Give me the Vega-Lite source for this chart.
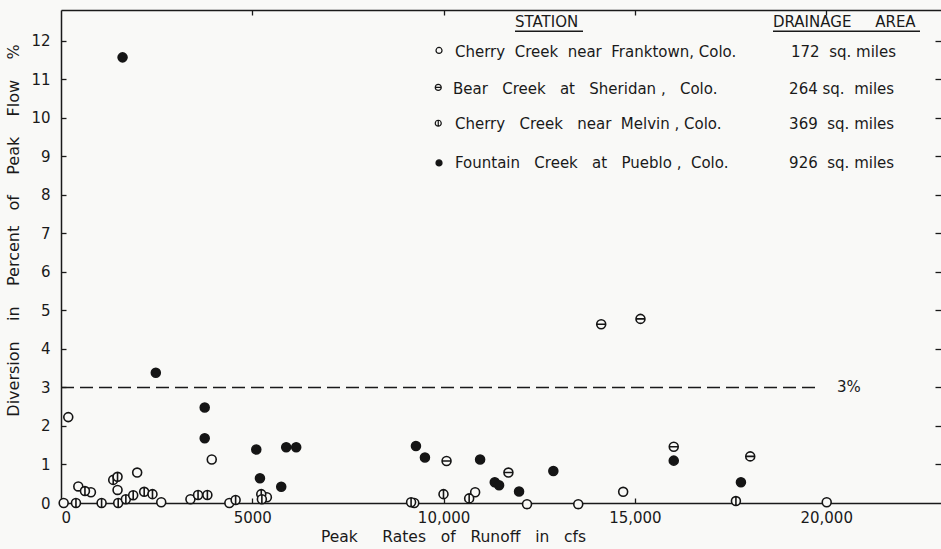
{
  "$schema": "https://vega.github.io/schema/vega-lite/v6.json",
  "autosize": "none",
  "width": 880,
  "height": 493,
  "padding": {"left": 61, "top": 10, "right": 0, "bottom": 46},
  "background": "#f9f9f7",
  "config": {
    "view": {"stroke": null},
    "axis": {"grid": false, "labelFont": "DejaVu Sans", "titleFont": "DejaVu Sans", "labelColor": "#1a1a1a", "titleColor": "#1a1a1a", "domainColor": "#1a1a1a", "tickColor": "#1a1a1a", "domainWidth": 1.5, "tickWidth": 1.3, "titleFontWeight": "normal"}
  },
  "datasets": {
    "points": [
      {"q": 70, "pct": 0, "station": "Franktown"},
      {"q": 190, "pct": 2.23, "station": "Franktown"},
      {"q": 452, "pct": 0.43, "station": "Franktown"},
      {"q": 782, "pct": 0.28, "station": "Franktown"},
      {"q": 1478, "pct": 0.34, "station": "Franktown"},
      {"q": 1991, "pct": 0.79, "station": "Franktown"},
      {"q": 2620, "pct": 0.02, "station": "Franktown"},
      {"q": 3383, "pct": 0.1, "station": "Franktown"},
      {"q": 3940, "pct": 1.13, "station": "Franktown"},
      {"q": 4400, "pct": 0, "station": "Franktown"},
      {"q": 5381, "pct": 0.15, "station": "Franktown"},
      {"q": 9233, "pct": 0, "station": "Franktown"},
      {"q": 10824, "pct": 0.28, "station": "Franktown"},
      {"q": 12180, "pct": -0.03, "station": "Franktown"},
      {"q": 13519, "pct": -0.03, "station": "Franktown"},
      {"q": 14693, "pct": 0.29, "station": "Franktown"},
      {"q": 20013, "pct": 0.02, "station": "Franktown"},
      {"q": 10077, "pct": 1.09, "station": "Bear Creek"},
      {"q": 11694, "pct": 0.79, "station": "Bear Creek"},
      {"q": 14119, "pct": 4.64, "station": "Bear Creek"},
      {"q": 15145, "pct": 4.78, "station": "Bear Creek"},
      {"q": 16015, "pct": 1.46, "station": "Bear Creek"},
      {"q": 18014, "pct": 1.21, "station": "Bear Creek"},
      {"q": 391, "pct": 0, "station": "Melvin"},
      {"q": 626, "pct": 0.31, "station": "Melvin"},
      {"q": 1061, "pct": 0, "station": "Melvin"},
      {"q": 1365, "pct": 0.6, "station": "Melvin"},
      {"q": 1478, "pct": 0.68, "station": "Melvin"},
      {"q": 1495, "pct": 0, "station": "Melvin"},
      {"q": 1695, "pct": 0.1, "station": "Melvin"},
      {"q": 1887, "pct": 0.2, "station": "Melvin"},
      {"q": 2174, "pct": 0.29, "station": "Melvin"},
      {"q": 2391, "pct": 0.23, "station": "Melvin"},
      {"q": 3582, "pct": 0.21, "station": "Melvin"},
      {"q": 3826, "pct": 0.21, "station": "Melvin"},
      {"q": 4564, "pct": 0.08, "station": "Melvin"},
      {"q": 5234, "pct": 0.23, "station": "Melvin"},
      {"q": 5250, "pct": 0.1, "station": "Melvin"},
      {"q": 9150, "pct": 0.02, "station": "Melvin"},
      {"q": 9997, "pct": 0.23, "station": "Melvin"},
      {"q": 10668, "pct": 0.12, "station": "Melvin"},
      {"q": 17640, "pct": 0.05, "station": "Melvin"},
      {"q": 1609, "pct": 11.57, "station": "Fountain"},
      {"q": 2478, "pct": 3.38, "station": "Fountain"},
      {"q": 3756, "pct": 2.48, "station": "Fountain"},
      {"q": 3756, "pct": 1.68, "station": "Fountain"},
      {"q": 5104, "pct": 1.39, "station": "Fountain"},
      {"q": 5200, "pct": 0.64, "station": "Fountain"},
      {"q": 5756, "pct": 0.42, "station": "Fountain"},
      {"q": 5886, "pct": 1.45, "station": "Fountain"},
      {"q": 6147, "pct": 1.45, "station": "Fountain"},
      {"q": 9277, "pct": 1.48, "station": "Fountain"},
      {"q": 9512, "pct": 1.18, "station": "Fountain"},
      {"q": 10954, "pct": 1.13, "station": "Fountain"},
      {"q": 11337, "pct": 0.54, "station": "Fountain"},
      {"q": 11450, "pct": 0.46, "station": "Fountain"},
      {"q": 11972, "pct": 0.3, "station": "Fountain"},
      {"q": 12868, "pct": 0.83, "station": "Fountain"},
      {"q": 16015, "pct": 1.1, "station": "Fountain"},
      {"q": 17771, "pct": 0.54, "station": "Fountain"}
    ],
    "threshold": [{"q": 0, "q2": 19759, "pct": 3, "label": "3%", "lq": 20282}],
    "legendSymbols": [
      {"q": 9880, "pct": 11.75, "station": "Franktown"},
      {"q": 9860, "pct": 10.79, "station": "Bear Creek"},
      {"q": 9860, "pct": 9.86, "station": "Melvin"},
      {"q": 9880, "pct": 8.83, "station": "Fountain"}
    ],
    "legendText": [
      {"q": 11866, "pct": 12.49, "t": "STATION"},
      {"q": 18609, "pct": 12.49, "t": "DRAINAGE\u00a0\u00a0\u00a0\u00a0\u00a0AREA"},
      {"q": 10298, "pct": 11.71, "t": "Cherry\u00a0\u00a0Creek\u00a0\u00a0near\u00a0\u00a0Franktown,\u00a0Colo."},
      {"q": 19080, "pct": 11.71, "t": "172\u00a0\u00a0sq.\u00a0miles"},
      {"q": 10245, "pct": 10.76, "t": "Bear\u00a0\u00a0\u00a0Creek\u00a0\u00a0\u00a0at\u00a0\u00a0\u00a0Sheridan\u00a0,\u00a0\u00a0\u00a0Colo."},
      {"q": 19030, "pct": 10.76, "t": "264\u00a0sq.\u00a0\u00a0miles"},
      {"q": 10298, "pct": 9.85, "t": "Cherry\u00a0\u00a0\u00a0Creek\u00a0\u00a0\u00a0near\u00a0\u00a0Melvin\u00a0,\u00a0Colo."},
      {"q": 19030, "pct": 9.85, "t": "369\u00a0\u00a0sq.\u00a0miles"},
      {"q": 10298, "pct": 8.84, "t": "Fountain\u00a0\u00a0\u00a0Creek\u00a0\u00a0\u00a0at\u00a0\u00a0\u00a0Pueblo\u00a0,\u00a0\u00a0Colo."},
      {"q": 19030, "pct": 8.84, "t": "926\u00a0\u00a0sq.\u00a0miles"}
    ],
    "underlines": [
      {"q": 11866, "q2": 13643, "pct": 12.25},
      {"q": 18609, "q2": 22451, "pct": 12.25}
    ]
  },
  "resolve": {"axis": {"x": "independent", "y": "independent"}},
  "layer": [
    {
      "data": {"name": "points"},
      "mark": {"type": "point", "filled": true, "stroke": "#151515", "strokeWidth": 1.6, "size": 80, "opacity": 1},
      "encoding": {
        "x": {"field": "q", "type": "quantitative", "scale": {"domain": [0, 23000], "nice": false, "zero": false},
          "axis": {"orient": "bottom", "values": [0, 5000, 10000, 15000, 20000], "labelExpr": "datum.value < 10000 ? format(datum.value, 'd') : format(datum.value, ',')", "tickSize": -5, "labelPadding": 12, "labelFontSize": 15, "title": "Peak\u00a0\u00a0\u00a0\u00a0\u00a0Rates\u00a0\u00a0\u00a0of\u00a0\u00a0\u00a0Runoff\u00a0\u00a0\u00a0in\u00a0\u00a0\u00a0cfs", "titleFontSize": 15.5, "titleX": 392, "titlePadding": 4}},
        "y": {"field": "pct", "type": "quantitative", "scale": {"domain": [0, 12.8], "nice": false, "zero": false},
          "axis": {"orient": "left", "values": [0, 1, 2, 3, 4, 5, 6, 7, 8, 9, 10, 11, 12], "tickSize": -5, "labelPadding": 16, "labelFontSize": 15, "title": "Diversion\u00a0\u00a0\u00a0\u00a0in\u00a0\u00a0\u00a0\u00a0Percent\u00a0\u00a0\u00a0of\u00a0\u00a0\u00a0\u00a0Peak\u00a0\u00a0\u00a0\u00a0Flow\u00a0\u00a0\u00a0\u00a0%", "titleFontSize": 16, "titleY": 220, "titlePadding": 9}},
        "shape": {"field": "station", "type": "nominal", "legend": null,
          "scale": {"domain": ["Franktown", "Bear Creek", "Melvin", "Fountain"],
            "range": ["M-1,0A1,1,0,1,1,1,0A1,1,0,1,1,-1,0Z", "M-1,0A1,1,0,1,1,1,0A1,1,0,1,1,-1,0ZM-1,0L1,0", "M-1,0A1,1,0,1,1,1,0A1,1,0,1,1,-1,0ZM0,-1L0,1", "M-1,0A1,1,0,1,1,1,0A1,1,0,1,1,-1,0Z"]}},
        "fill": {"field": "station", "type": "nominal", "legend": null,
          "scale": {"domain": ["Franktown", "Bear Creek", "Melvin", "Fountain"], "range": ["#f9f9f7", "#f9f9f7", "#f9f9f7", "#151515"]}}
      }
    },
    {
      "data": {"name": "threshold"},
      "mark": {"type": "rule", "strokeDash": [13, 6], "strokeWidth": 1.5, "color": "#1a1a1a"},
      "encoding": {
        "x": {"field": "q", "type": "quantitative", "scale": {"domain": [0, 23000], "nice": false, "zero": false},
          "axis": {"orient": "top", "values": [5000, 10000, 15000, 20000], "labels": false, "tickSize": -5, "title": null}},
        "x2": {"field": "q2"},
        "y": {"field": "pct", "type": "quantitative", "scale": {"domain": [0, 12.8], "nice": false, "zero": false},
          "axis": {"orient": "right", "values": [1, 2, 3, 4, 5, 6, 7, 8, 9, 10, 11, 12], "labels": false, "domain": false, "tickSize": -6, "title": null}}
      }
    },
    {
      "data": {"name": "threshold"},
      "mark": {"type": "text", "align": "left", "baseline": "middle", "font": "DejaVu Sans", "fontSize": 15, "color": "#1a1a1a"},
      "encoding": {
        "x": {"field": "lq", "type": "quantitative", "axis": null},
        "y": {"field": "pct", "type": "quantitative", "axis": null},
        "text": {"field": "label"}
      }
    },
    {
      "data": {"name": "underlines"},
      "mark": {"type": "rule", "strokeWidth": 1.5, "color": "#1a1a1a"},
      "encoding": {
        "x": {"field": "q", "type": "quantitative", "axis": null},
        "x2": {"field": "q2"},
        "y": {"field": "pct", "type": "quantitative", "axis": null}
      }
    },
    {
      "data": {"name": "legendSymbols"},
      "mark": {"type": "point", "filled": true, "stroke": "#151515", "strokeWidth": 1.2, "size": 36, "opacity": 1},
      "encoding": {
        "x": {"field": "q", "type": "quantitative", "axis": null},
        "y": {"field": "pct", "type": "quantitative", "axis": null},
        "shape": {"field": "station", "type": "nominal", "legend": null},
        "fill": {"field": "station", "type": "nominal", "legend": null}
      }
    },
    {
      "data": {"name": "legendText"},
      "mark": {"type": "text", "align": "left", "baseline": "middle", "font": "DejaVu Sans", "fontSize": 15, "color": "#1a1a1a"},
      "encoding": {
        "x": {"field": "q", "type": "quantitative", "axis": null},
        "y": {"field": "pct", "type": "quantitative", "axis": null},
        "text": {"field": "t"}
      }
    }
  ]
}
